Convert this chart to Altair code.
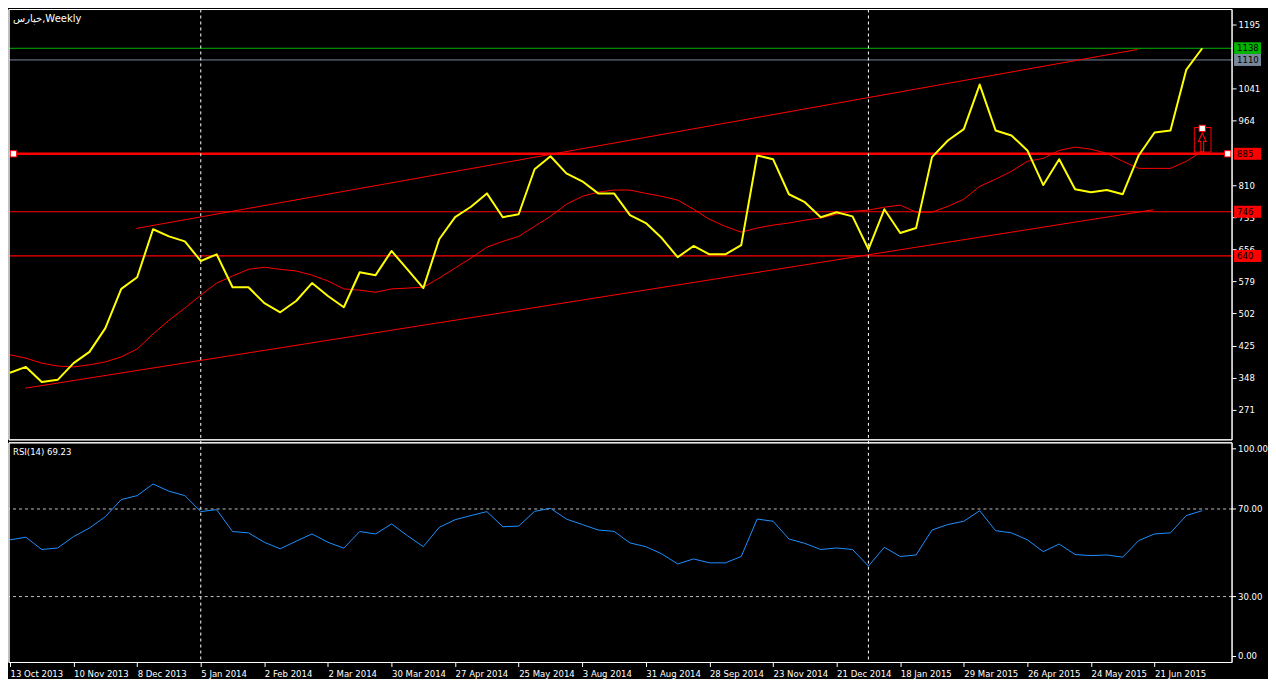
import altair as alt
import pandas as pd

# ---------------- data ----------------
bar_index = list(range(76))
close = [360, 374, 338, 343, 383, 410, 467, 561, 589, 704,
         687, 675, 628, 644, 565, 565, 527, 505, 532, 575,
         544, 517, 601, 594, 652, 608, 563, 680, 733, 758,
         790, 733, 740, 848, 879, 838, 819, 790, 790, 738,
         719, 683, 637, 664, 644, 644, 666, 881, 872, 788,
         769, 733, 745, 735, 656, 752, 695, 707, 877, 917,
         944, 1051, 941, 929, 893, 810, 872, 800, 793, 798,
         788, 881, 936, 941, 1087, 1138]
ma = [403, 395, 383, 376, 374, 379, 386, 398, 417, 453,
      486, 515, 546, 575, 592, 608, 613, 608, 604, 594,
      580, 561, 558, 553, 561, 563, 565, 587, 611, 635,
      661, 675, 687, 711, 735, 764, 783, 793, 798, 798,
      790, 783, 774, 752, 728, 711, 697, 707, 714, 719,
      726, 731, 740, 747, 750, 757, 762, 745, 745, 759,
      776, 807, 824, 843, 867, 874, 893, 901, 896, 886,
      867, 850, 850, 850, 867, 891]
rsi = [55.9, 57.1, 51.5, 52.2, 57.4, 61.3, 66.5, 74.3, 76.1, 81.4,
       78.1, 76.1, 68.8, 69.7, 59.7, 59.1, 54.8, 51.8, 55.3, 58.6,
       54.8, 52.1, 59.7, 58.6, 63.2, 57.8, 52.8, 61.6, 65.1, 67.0,
       68.8, 61.9, 62.2, 68.9, 70.3, 65.4, 62.9, 60.4, 59.8, 54.5,
       52.8, 49.5, 44.9, 47.2, 45.4, 45.4, 48.3, 65.4, 64.4, 56.3,
       54.3, 51.5, 52.2, 51.5, 43.9, 52.5, 48.3, 49.0, 60.4, 62.9,
       64.4, 69.2, 60.1, 59.1, 55.9, 50.5, 54.0, 49.2, 48.7, 49.0,
       48.0, 55.6, 58.6, 59.1, 67.0, 69.23]

tick_index = [0, 4, 8, 12, 16, 20, 24, 28, 32, 36, 40, 44, 48, 52, 56, 60, 64, 68, 72]
tick_labels = ["13 Oct 2013", "10 Nov 2013", "8 Dec 2013", "5 Jan 2014", "2 Feb 2014",
               "2 Mar 2014", "30 Mar 2014", "27 Apr 2014", "25 May 2014", "3 Aug 2014",
               "31 Aug 2014", "28 Sep 2014", "23 Nov 2014", "21 Dec 2014", "18 Jan 2015",
               "29 Mar 2015", "26 Apr 2015", "24 May 2015", "21 Jun 2015"]
price_ticks = [271, 348, 425, 502, 579, 656, 733, 810, 964, 1041, 1195]
rsi_ticks = [0, 30, 70, 100]
rsi_levels = [30, 70]
separator_index = [12, 54]

hline_values = [1138, 1110, 885, 746, 640]
hline_colors = ["#00B400", "#778899", "#FF0000", "#FF0000", "#FF0000"]
hline_widths = [1, 1, 2.5, 1, 1.2]

trend_x_start = [7.94, 0.96]
trend_x_end = [70.9, 71.94]
trend_v_start = [706, 323]
trend_v_end = [1135, 751]

handle_index = [0.22, 76.6, 75.0]
handle_value = [885, 885, 946]
arrow_index = [75.0]
arrow_value = [912]
arrow_box_x = [74.5]
arrow_box_x2 = [75.55]
arrow_box_v = [889]
arrow_box_v2 = [948]

title_text = "خپارس,Weekly"
rsi_title = "RSI(14) 69.23"

# ---------------- layout ----------------
W = 1225
H_TOP = 431          # price panel: 0 .. 431
R_TOP = 434          # rsi panel: 434 .. 654
HT = 654
X_DOMAIN = [-0.0625, 76.875]
P_DOMAIN = [199.1, 1230.9]
R_DOMAIN = [-0.1, 100.2]
FONT = "Liberation Sans Narrow, DejaVu Sans Condensed, Liberation Sans"
FS = 9.5
units_per_px = (P_DOMAIN[1] - P_DOMAIN[0]) / H_TOP
rsi_per_px = (R_DOMAIN[1] - R_DOMAIN[0]) / (HT - R_TOP)

df = pd.DataFrame({"i": bar_index, "close": close, "ma": ma, "rsi": rsi})
df_h = pd.DataFrame({"v": hline_values, "c": hline_colors, "w": hline_widths,
                     "label": [str(v) for v in hline_values]})
df_h["lo"] = df_h["v"] - 6 * units_per_px
df_h["hi"] = df_h["v"] + 6 * units_per_px
df_t = pd.DataFrame({"x": trend_x_start, "x2": trend_x_end, "v": trend_v_start, "v2": trend_v_end})
df_sep = pd.DataFrame({"i": separator_index})
df_handle = pd.DataFrame({"i": handle_index, "v": handle_value})
df_arrow = pd.DataFrame({"i": arrow_index, "v": arrow_value})
df_box = pd.DataFrame({"x": arrow_box_x, "x2": arrow_box_x2, "v": arrow_box_v, "v2": arrow_box_v2})
df_lv = pd.DataFrame({"r": rsi_levels})
# the end labels of the RSI scale are kept inside the panel (as the terminal does)
df_rt = pd.DataFrame({"r": rsi_ticks, "label": ["%.2f" % t for t in rsi_ticks]})
df_rt["rp"] = df_rt["r"].clip(lower=R_DOMAIN[0] + 6 * rsi_per_px,
                              upper=R_DOMAIN[1] - 6 * rsi_per_px)

xs = alt.Scale(domain=X_DOMAIN, nice=False, zero=False)
ps = alt.Scale(domain=P_DOMAIN, nice=False, zero=False, range=[H_TOP, 0])
rs = alt.Scale(domain=R_DOMAIN, nice=False, zero=False, range=[HT, R_TOP])

price_axis = alt.Axis(orient="right", values=price_ticks, format="d", title=None, grid=False,
                      domain=False, labelColor="white", tickColor="white",
                      tickSize=4, labelPadding=2, labelFont=FONT, labelFontSize=FS,
                      labelFlush=False, labelOverlap=False)
labels_js = "[" + ",".join("'%s'" % s for s in tick_labels) + "]"
x_axis = alt.Axis(values=tick_index, labelExpr=labels_js + "[round(datum.value/4)]",
                  title=None, grid=False, domain=False, labelColor="white", tickColor="white",
                  tickSize=4, labelPadding=2, labelAlign="left",
                  labelFont=FONT, labelFontSize=FS, labelFlush=False, labelOverlap=False,
                  labelBound=False)


def XA(field):
    return alt.X(field, scale=xs, axis=x_axis)


def YP(field, with_axis=False):
    # y scales are resolved independently, so only one price layer carries the axis
    return alt.Y(field, scale=ps, axis=price_axis if with_axis else None)


def YR(field):
    return alt.Y(field, scale=rs, axis=None)


# ---------------- price panel layers ----------------
hl = alt.Chart(df_h).mark_rule(clip=True).encode(
    y=YP("v:Q"),
    color=alt.Color("c:N", scale=None),
    strokeWidth=alt.StrokeWidth("w:Q", scale=None),
)
trend = alt.Chart(df_t).mark_rule(color="#FF0000", strokeWidth=1, clip=True).encode(
    x=XA("x:Q"), x2="x2:Q", y=YP("v:Q"), y2="v2:Q")
ma_line = alt.Chart(df).mark_line(color="#FF0000", strokeWidth=1, strokeJoin="round",
                                  clip=True).encode(x=XA("i:Q"), y=YP("ma:Q"))
close_line = alt.Chart(df).mark_line(color="#FFFF00", strokeWidth=2, strokeJoin="round",
                                     clip=True).encode(x=XA("i:Q"), y=YP("close:Q", True))
box = alt.Chart(df_box).mark_rect(stroke="#FF0000", strokeWidth=1, fillOpacity=0).encode(
    x=XA("x:Q"), x2="x2:Q", y=YP("v:Q"), y2="v2:Q")
arrow = alt.Chart(df_arrow).mark_point(shape="arrow", filled=False, color="#FF0000",
                                       size=360, strokeWidth=1.2, opacity=1).encode(
    x=XA("i:Q"), y=YP("v:Q"))
handles = alt.Chart(df_handle).mark_square(size=40, fill="white", stroke="#FF0000",
                                          strokeWidth=1, opacity=1, filled=True).encode(
    x=XA("i:Q"), y=YP("v:Q"))
lab_box = alt.Chart(df_h).mark_rect().encode(
    x=alt.value(W + 2), x2=alt.value(W + 29),
    y=YP("lo:Q"), y2="hi:Q",
    color=alt.Color("c:N", scale=None),
)
lab_txt = alt.Chart(df_h).mark_text(align="left", baseline="middle", color="black",
                                    font=FONT, fontSize=FS).encode(
    x=alt.value(W + 5), y=YP("v:Q"), text="label:N")

# ---------------- separators & frames ----------------
sep = alt.Chart(df_sep).mark_rule(color="white", strokeDash=[3, 3], strokeWidth=1).encode(
    x=XA("i:Q"), y=alt.value(0), y2=alt.value(HT))
frame_top = alt.Chart(df_sep).mark_rect(fillOpacity=0, stroke="white", strokeWidth=1).encode(
    x=alt.value(0), x2=alt.value(W), y=alt.value(0), y2=alt.value(H_TOP))
frame_rsi = alt.Chart(df_sep).mark_rect(fillOpacity=0, stroke="white", strokeWidth=1).encode(
    x=alt.value(0), x2=alt.value(W), y=alt.value(R_TOP), y2=alt.value(HT))

title = alt.Chart(pd.DataFrame({"t": [title_text]})).mark_text(
    align="left", baseline="middle", color="white", font="DejaVu Sans", fontSize=10
).encode(x=alt.value(4), y=alt.value(9), text="t:N")

# ---------------- RSI panel layers ----------------
lv = alt.Chart(df_lv).mark_rule(color="#C0C0C0", strokeDash=[3, 3], strokeWidth=1).encode(
    y=YR("r:Q"))
rsi_line = alt.Chart(df).mark_line(color="#1E90FF", strokeWidth=1, strokeJoin="round",
                                   clip=True).encode(x=XA("i:Q"), y=YR("rsi:Q"))
rsi_tick = alt.Chart(df_rt).mark_rule(color="white", strokeWidth=1).encode(
    x=alt.value(W), x2=alt.value(W + 4), y=YR("rp:Q"))
rsi_tick_lbl = alt.Chart(df_rt).mark_text(align="left", baseline="middle", color="white",
                                          font=FONT, fontSize=FS).encode(
    x=alt.value(W + 6), y=YR("rp:Q"), text="label:N")
rsi_lbl = alt.Chart(pd.DataFrame({"t": [rsi_title]})).mark_text(
    align="left", baseline="middle", color="white", font=FONT, fontSize=FS
).encode(x=alt.value(4), y=alt.value(R_TOP + 9), text="t:N")

chart = alt.layer(
    hl, trend, sep, ma_line, close_line, box, arrow, handles,
    lab_box, lab_txt, title,
    lv, rsi_line, rsi_tick, rsi_tick_lbl, rsi_lbl,
    frame_top, frame_rsi,
).resolve_scale(y="independent").properties(
    width=W, height=HT, background="black", padding=0
).configure_view(stroke=None)

chart.save("out.html", embed_options={"renderer": "svg", "actions": False})
